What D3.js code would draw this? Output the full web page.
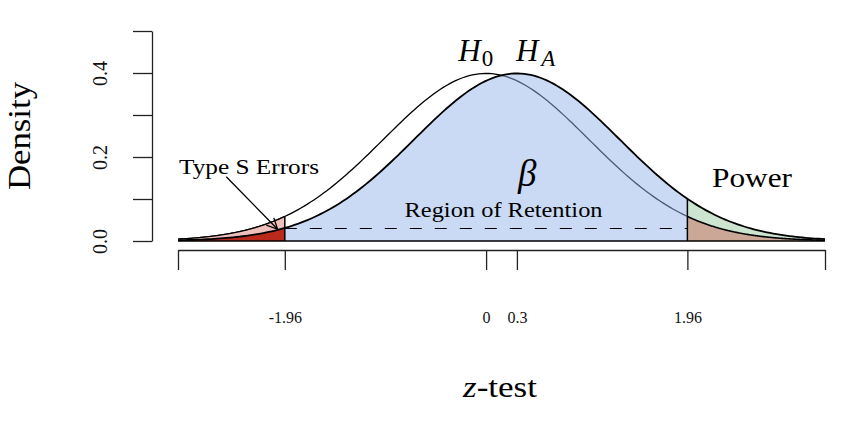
<!DOCTYPE html>
<html>
<head>
<meta charset="utf-8">
<script src="https://cdn.jsdelivr.net/npm/d3@7"></script>
<style>
  body { margin: 0; background: #fff; }
  svg { font-family: "Liberation Serif", "DejaVu Serif", serif; }
  .axis path, .axis line { stroke: #222; stroke-width: 1.3; }
  .axis text { fill: #111; }
</style>
</head>
<body>
<svg width="860" height="424"></svg>
<script>
// hypotheses: name, mean (sd = 1)
const hypNames = ["H0", "HA"]
const hypMeans = [0, 0.3]
// two-sided critical values
const critValues = [-1.96, 1.96]
// plotted range of z
const zRange = [-3, 3.3]
const xTickValues = [-3, -1.96, 0, 0.3, 1.96, 3.3]
const xTickLabels = ["", "-1.96", "0", "0.3", "1.96", ""]
const yTickValues = [0, 0.1, 0.2, 0.3, 0.4, 0.5]
const yTickLabels = ["0.0", "", "0.2", "", "0.4", ""]

const svg = d3.select("svg")

const x = d3.scaleLinear().domain(zRange).range([178, 825])
const y = d3.scaleLinear().domain([0, 0.5]).range([241, 31])

const dnorm = (z, m) => Math.exp(-0.5 * (z - m) * (z - m)) / Math.sqrt(2 * Math.PI)
const grid = (a, b) => {
  const n = 200
  return d3.range(n + 1).map((i) => a + ((b - a) * i) / n)
}

const areaFor = (m) =>
  d3.area()
    .x((d) => x(d))
    .y0(y(0))
    .y1((d) => y(dnorm(d, m)))
const lineFor = (m) =>
  d3.line()
    .x((d) => x(d))
    .y((d) => y(dnorm(d, m)))

const [m0, mA] = hypMeans
const [cLo, cHi] = critValues

// H0 curve first, blue retention area drawn on top of it (translucent)
svg.append("path")
  .datum(grid(zRange[0], zRange[1]))
  .attr("d", lineFor(m0))
  .attr("fill", "none")
  .attr("stroke", "#000")
  .attr("stroke-width", 1.3)

svg.append("path")
  .datum(grid(cLo, cHi))
  .attr("d", areaFor(mA))
  .attr("fill", "rgb(151,181,233)")
  .attr("fill-opacity", 0.5)

// left tails: H0 tail (pink), HA tail (Type S, dark red)
svg.append("path").datum(grid(zRange[0], cLo)).attr("d", areaFor(m0)).attr("fill", "#efc0bb")
svg.append("path").datum(grid(zRange[0], cLo)).attr("d", areaFor(mA)).attr("fill", "#b92a1d")
// right tails: HA tail (power, green), H0 tail (brown overlap)
svg.append("path").datum(grid(cHi, zRange[1])).attr("d", areaFor(mA)).attr("fill", "#cde4d1")
svg.append("path").datum(grid(cHi, zRange[1])).attr("d", areaFor(m0)).attr("fill", "#caa797")

// H0 outline over the tails
svg.append("path").datum(grid(zRange[0], cLo)).attr("d", lineFor(m0))
  .attr("fill", "none").attr("stroke", "#000").attr("stroke-width", 1.3)
svg.append("path").datum(grid(cHi, zRange[1])).attr("d", lineFor(m0))
  .attr("fill", "none").attr("stroke", "#000").attr("stroke-width", 1.6)

// HA curve
svg.append("path")
  .datum(grid(zRange[0], zRange[1]))
  .attr("d", lineFor(mA))
  .attr("fill", "none")
  .attr("stroke", "#000")
  .attr("stroke-width", 1.8)

// baseline
svg.append("line")
  .attr("x1", x(zRange[0])).attr("x2", x(zRange[1]))
  .attr("y1", y(0)).attr("y2", y(0))
  .attr("stroke", "#000").attr("stroke-width", 1.5)

// vertical boundaries at the critical values
svg.append("line")
  .attr("x1", x(cLo)).attr("x2", x(cLo))
  .attr("y1", y(0)).attr("y2", y(dnorm(cLo, m0)))
  .attr("stroke", "#000").attr("stroke-width", 1.5)
svg.append("line")
  .attr("x1", x(cHi)).attr("x2", x(cHi))
  .attr("y1", y(0)).attr("y2", y(dnorm(cHi, mA)))
  .attr("stroke", "#000").attr("stroke-width", 1.5)

// dashed line at HA density at lower critical value
svg.append("line")
  .attr("x1", x(cLo)).attr("x2", x(cHi))
  .attr("y1", Math.round(y(dnorm(cLo, mA))) + 0.5)
  .attr("y2", Math.round(y(dnorm(cLo, mA))) + 0.5)
  .attr("stroke", "#000").attr("stroke-width", 1.2)
  .attr("stroke-dasharray", "12,13")

// axes
const yAxis = d3.axisLeft(y)
  .tickValues(yTickValues)
  .tickSize(19)
  .tickSizeOuter(0)
  .tickFormat((d, i) => yTickLabels[i])
const yAxisG = svg.append("g")
  .attr("class", "axis")
  .attr("transform", "translate(152,0)")
  .call(yAxis)
yAxisG.selectAll("text")
  .attr("x", null).attr("dy", null)
  .attr("transform", "translate(-45,0) rotate(-90)")
  .attr("text-anchor", "middle")
  .attr("font-size", 20)
  .attr("font-family", "Liberation Serif")

const xAxis = d3.axisBottom(x)
  .tickValues(xTickValues)
  .tickSize(20)
  .tickSizeOuter(0)
  .tickPadding(42)
  .tickFormat((d, i) => xTickLabels[i])
const xAxisG = svg.append("g")
  .attr("class", "axis")
  .attr("transform", "translate(0,250)")
  .call(xAxis)
xAxisG.selectAll("text")
  .attr("font-size", 16)
  .attr("font-family", "Liberation Serif")

// axis titles
svg.append("text")
  .attr("transform", "translate(30,136) rotate(-90)")
  .attr("text-anchor", "middle")
  .attr("font-size", 32)
  .attr("textLength", 108)
  .attr("lengthAdjust", "spacingAndGlyphs")
  .text("Density")

const xt = svg.append("text")
  .attr("x", 500)
  .attr("y", 397)
  .attr("text-anchor", "middle")
  .attr("font-size", 30)
  .attr("textLength", 74)
  .attr("lengthAdjust", "spacingAndGlyphs")
xt.append("tspan").attr("font-style", "italic").text("z")
xt.append("tspan").text("-test")

// hypothesis labels
const hl = [
  { name: hypNames[0], z: -0.27, base: "H", sub: "0", dx: 1 },
  { name: hypNames[1], z: 0.29, base: "H", sub: "A", dx: 3 }
]
hl.forEach((h) => {
  const t = svg.append("text")
    .attr("x", x(h.z))
    .attr("y", 61)
    .attr("text-anchor", "start")
    .attr("font-size", 31)
  t.append("tspan").attr("font-style", "italic").text(h.base)
  t.append("tspan")
    .attr("font-size", 23)
    .attr("dy", 5)
    .attr("dx", h.dx)
    .attr("font-style", h.sub === "A" ? "italic" : "normal")
    .text(h.sub)
})

// annotations
svg.append("text")
  .attr("x", x(0.4)).attr("y", 186)
  .attr("text-anchor", "middle")
  .attr("font-size", 37)
  .attr("font-style", "italic")
  .text("β")

svg.append("text")
  .attr("x", x(0.17)).attr("y", 217)
  .attr("text-anchor", "middle")
  .attr("font-size", 22)
  .attr("textLength", 198)
  .attr("lengthAdjust", "spacingAndGlyphs")
  .text("Region of Retention")

svg.append("text")
  .attr("x", 752).attr("y", 187)
  .attr("text-anchor", "middle")
  .attr("font-size", 28)
  .attr("textLength", 80)
  .attr("lengthAdjust", "spacingAndGlyphs")
  .text("Power")

svg.append("text")
  .attr("x", 249).attr("y", 174)
  .attr("text-anchor", "middle")
  .attr("font-size", 22)
  .attr("textLength", 140)
  .attr("lengthAdjust", "spacingAndGlyphs")
  .text("Type S Errors")

// arrow to Type S region
const ax0 = x(-2.53), ay0 = y(0.153)
const ax1 = x(-2.03), ay1 = y(0.028)
const ang = Math.atan2(ay1 - ay0, ax1 - ax0)
const hlen = 12, hang = Math.PI / 7
svg.append("path")
  .attr("d", `M${ax0},${ay0}L${ax1},${ay1}` +
    `M${ax1 - hlen * Math.cos(ang - hang)},${ay1 - hlen * Math.sin(ang - hang)}` +
    `L${ax1},${ay1}` +
    `L${ax1 - hlen * Math.cos(ang + hang)},${ay1 - hlen * Math.sin(ang + hang)}`)
  .attr("fill", "none")
  .attr("stroke", "#000")
  .attr("stroke-width", 1.3)
</script>
</body>
</html>
